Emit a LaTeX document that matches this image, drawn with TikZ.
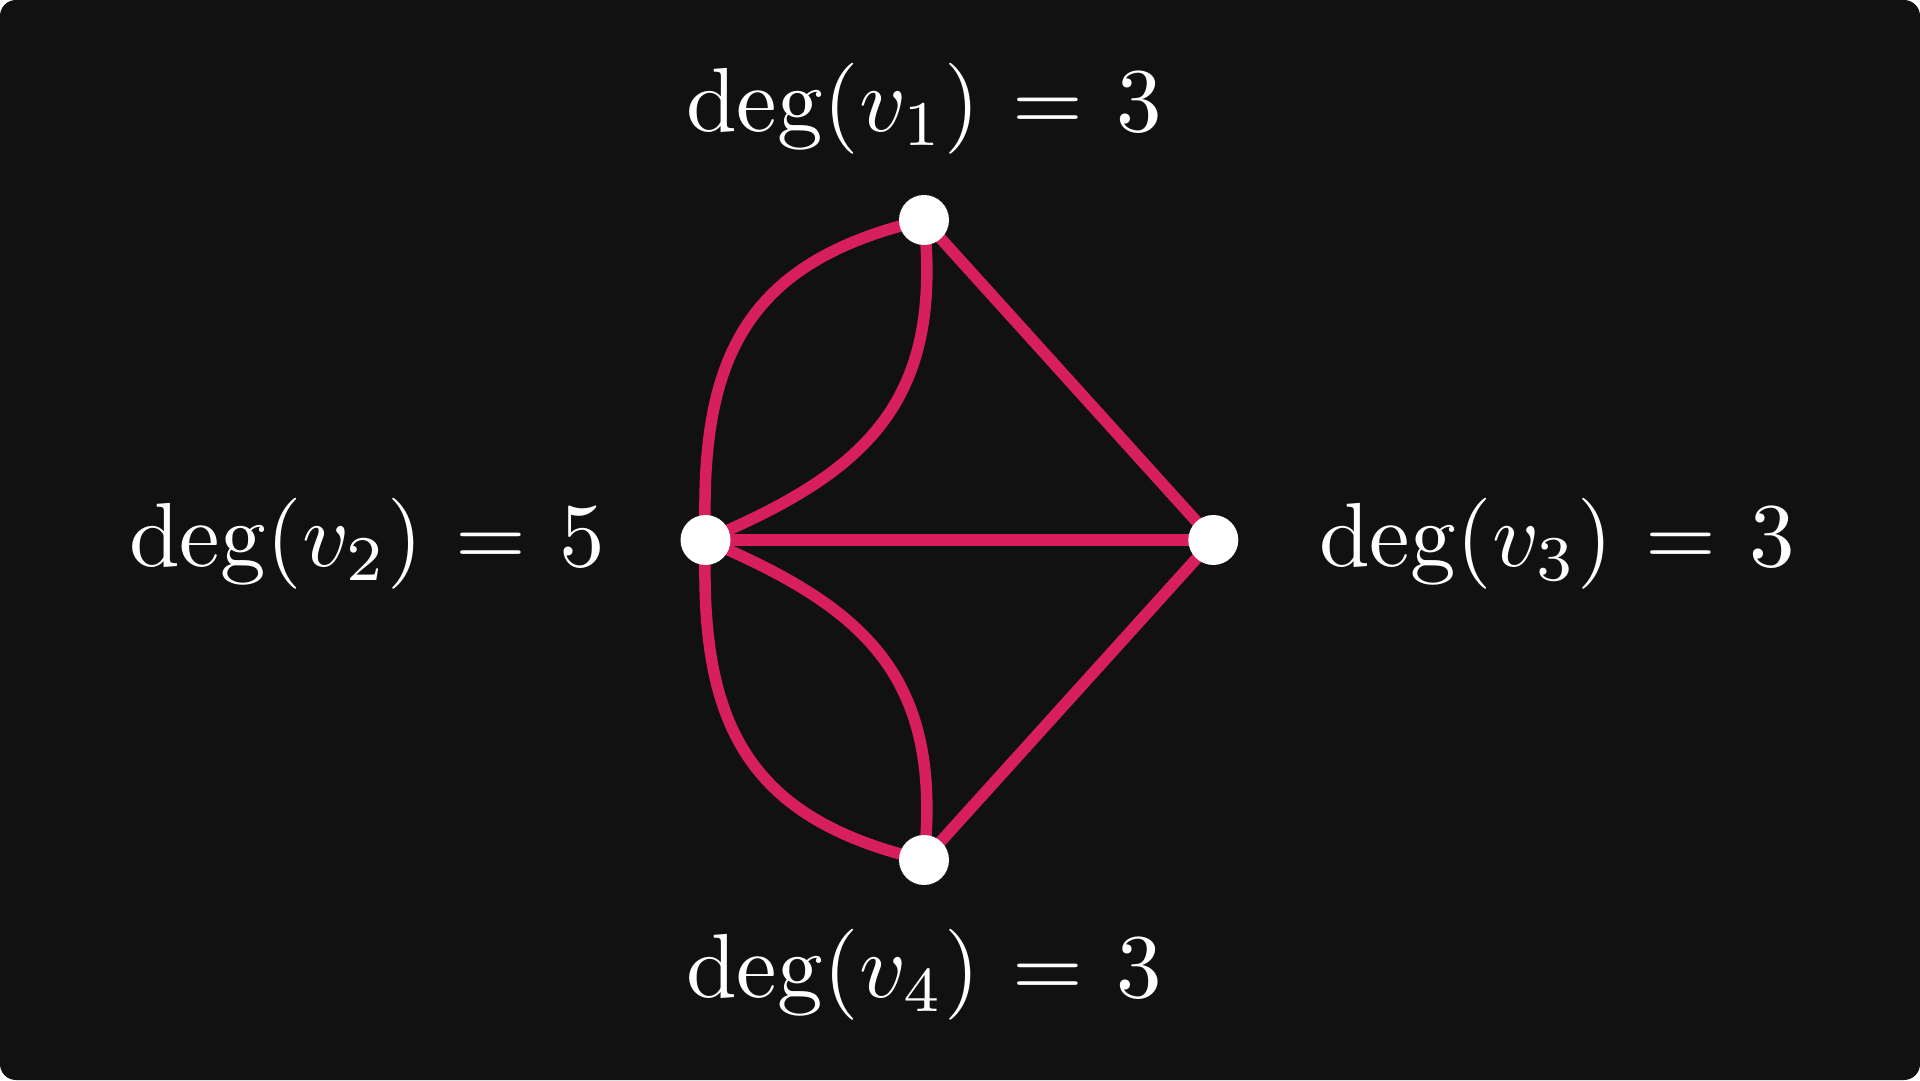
\documentclass[tikz,border=0pt]{standalone}
\definecolor{bgdark}{RGB}{17,17,17}
\definecolor{edgepink}{RGB}{215,31,94}
\pgfdeclarelayer{back}
\pgfdeclarelayer{edgelayer}
\pgfsetlayers{back,edgelayer,main}
\tikzset{
  vert/.style={circle, fill=white, draw=none, inner sep=0pt, minimum size=50pt},
  gedge/.style={draw=edgepink, line width=11.5pt},
  deglabel/.style={text=white, anchor=base, inner sep=0pt, scale=9.1, transform shape}
}
\newcommand{\degeq}[2]{$\deg(v_{#1})\mkern1.5mu=\mkern1.5mu#2$}
\begin{document}
\begin{tikzpicture}[x=1pt,y=1pt]
\useasboundingbox (0,0) rectangle (1920,1080);
\begin{pgfonlayer}{back}
  \fill[white] (0,0) rectangle (1920,1080);
  \fill[bgdark, rounded corners=16pt] (0,0) rectangle (1920,1080);
\end{pgfonlayer}
\node[vert] (v1) at (924,860) {};
\node[vert] (v2) at (705.5,540) {};
\node[vert] (v3) at (1213.3,540) {};
\node[vert] (v4) at (924,220) {};
\begin{pgfonlayer}{edgelayer}
  \draw[gedge] (v2.center) to[out=92, in=193, out distance=180pt, in distance=185pt] (v1.center);
  \draw[gedge] (v2.center) to[out=23, in=276, out distance=170pt, in distance=187pt] (v1.center);
  \draw[gedge] (v2.center) to[out=268, in=167, out distance=180pt, in distance=185pt] (v4.center);
  \draw[gedge] (v2.center) to[out=337, in=84, out distance=170pt, in distance=187pt] (v4.center);
  \draw[gedge] (v2.center) -- (v3.center);
  \draw[gedge] (v1.center) -- (v3.center);
  \draw[gedge] (v3.center) -- (v4.center);
\end{pgfonlayer}
\node[deglabel] (l1) at (924,948) {\degeq{1}{3}};
\node[deglabel] (l2) at (367,513) {\degeq{2}{5}};
\node[deglabel] (l3) at (1557,513) {\degeq{3}{3}};
\node[deglabel] (l4) at (924,82.3) {\degeq{4}{3}};
\end{tikzpicture}
\end{document}
